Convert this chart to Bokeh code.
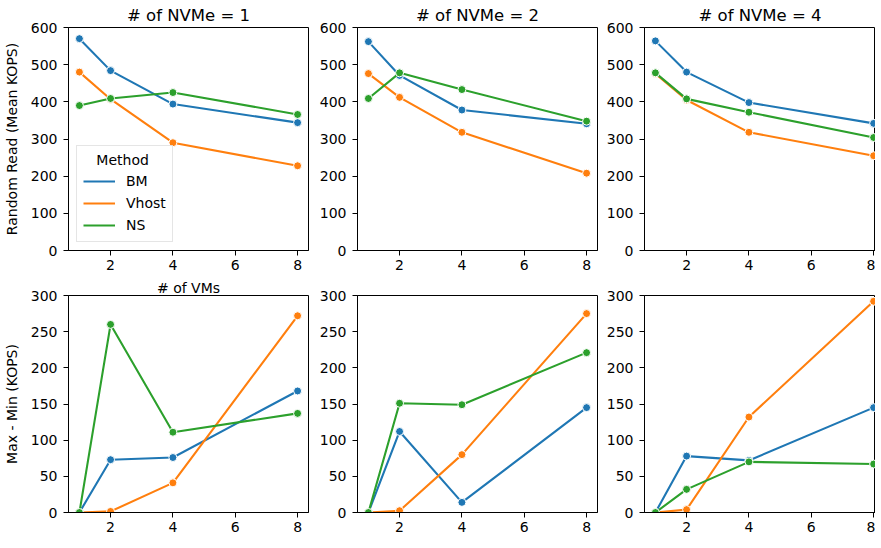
from bokeh.plotting import figure
from bokeh.models import Range1d, FixedTicker, Legend, LegendItem, Title
from bokeh.layouts import column, row
from bokeh.embed import file_html
from bokeh.resources import INLINE

# ---------------- data ----------------
vms = [1, 2, 4, 8]
methods = ["BM", "Vhost", "NS"]
colors = ["#1f77b4", "#ff7f0e", "#2ca02c"]
nvme_titles = ["# of NVMe = 1", "# of NVMe = 2", "# of NVMe = 4"]

# Random Read (Mean KOPS)
read_n1_bm = [570, 484, 394, 344]
read_n1_vhost = [480, 407, 290, 228]
read_n1_ns = [390, 409, 425, 366]

read_n2_bm = [562, 471, 378, 341]
read_n2_vhost = [476, 412, 318, 208]
read_n2_ns = [409, 478, 433, 348]

read_n4_bm = [564, 480, 398, 342]
read_n4_vhost = [476, 405, 318, 255]
read_n4_ns = [478, 408, 372, 304]

# Max - Min (KOPS)
spread_n1_bm = [0, 73, 76, 168]
spread_n1_vhost = [0, 1.5, 41, 272]
spread_n1_ns = [0, 260, 111, 137]

spread_n2_bm = [0, 112, 14, 145]
spread_n2_vhost = [0, 2.5, 80, 275]
spread_n2_ns = [0, 151, 149, 221]

spread_n4_bm = [0, 78, 72, 145]
spread_n4_vhost = [0, 4, 132, 292]
spread_n4_ns = [0, 32, 70, 67]

read_ticks = [0, 100, 200, 300, 400, 500, 600]
spread_ticks = [0, 50, 100, 150, 200, 250, 300]
x_ticks = [2, 4, 6, 8]

top_series = [
    [read_n1_bm, read_n1_vhost, read_n1_ns],
    [read_n2_bm, read_n2_vhost, read_n2_ns],
    [read_n4_bm, read_n4_vhost, read_n4_ns],
]
bottom_series = [
    [spread_n1_bm, spread_n1_vhost, spread_n1_ns],
    [spread_n2_bm, spread_n2_vhost, spread_n2_ns],
    [spread_n4_bm, spread_n4_vhost, spread_n4_ns],
]

# ---------------- layout ----------------
FONT = "DejaVu Sans"
frame_w = [240, 240, 231]
border_l = [63, 39, 38]
border_r = [8, 6, 0]
frame_h = [223, 217]
border_t = [22, 18]
border_b = [27, 25]
x_ends = [8.35, 8.35, 8.06]


def make_fig(ci, ri, series, ymax, yticks):
    p = figure(
        frame_width=frame_w[ci], frame_height=frame_h[ri],
        min_border_left=border_l[ci], min_border_right=border_r[ci],
        min_border_top=border_t[ri], min_border_bottom=border_b[ri],
        x_range=Range1d(0.65, x_ends[ci]), y_range=Range1d(0, ymax),
        output_backend="svg", toolbar_location=None, tools="",
    )
    p.grid.visible = False
    p.outline_line_color = "black"
    p.outline_line_width = 1
    p.background_fill_color = "white"
    p.border_fill_color = "white"
    for ax, ticks in ((p.xaxis[0], x_ticks), (p.yaxis[0], yticks)):
        ax.ticker = FixedTicker(ticks=ticks)
        ax.minor_tick_line_color = None
        ax.major_tick_out = 5
        ax.major_tick_in = 0
        ax.major_tick_line_color = "black"
        ax.axis_line_color = "black"
        ax.major_label_text_font = FONT
        ax.major_label_text_font_size = "14px"
        ax.major_label_text_color = "black"
        ax.axis_label_text_font = FONT
        ax.axis_label_text_font_size = "14px"
        ax.axis_label_text_font_style = "normal"
        ax.axis_label_text_color = "black"
    p.xaxis.major_label_standoff = 4
    p.yaxis.major_label_standoff = 6
    p.yaxis.axis_label_standoff = 8

    line_rs = []
    for vals, c in zip(series, colors):
        lr = p.line(vms, vals, line_color=c, line_width=2.1)
        p.scatter(vms, vals, size=8, fill_color=c, line_color="white", line_width=1)
        line_rs.append(lr)
    return p, line_rs


top_figs = []
bottom_figs = []
for ci in range(3):
    p, lrs = make_fig(ci, 0, top_series[ci], 600, read_ticks)
    p.title = Title(text=nvme_titles[ci], align="center", text_font=FONT,
                    text_font_size="16.5px", text_font_style="normal",
                    text_color="black", standoff=6, offset=(4 if ci == 2 else 0))
    if ci == 0:
        p.yaxis.axis_label = "Random Read (Mean KOPS)"
        legend = Legend(
            items=[LegendItem(label=m, renderers=[r]) for m, r in zip(methods, lrs)],
            location="bottom_left", margin=8,
            title="\u00a0\u00a0\u00a0Method",
            title_text_font=FONT, title_text_font_size="14px",
            title_text_font_style="normal", title_text_color="black",
            title_standoff=3,
            label_text_font=FONT, label_text_font_size="14px", label_text_color="black",
            glyph_width=32, glyph_height=20, label_height=20,
            label_standoff=11, spacing=2, padding=6,
            border_line_color="#cccccc", border_line_width=1,
            background_fill_color="white", background_fill_alpha=0.8,
        )
        p.add_layout(legend)
    top_figs.append(p)

for ci in range(3):
    p, lrs = make_fig(ci, 1, bottom_series[ci], 300, spread_ticks)
    p.title = Title(text=("# of VMs" if ci == 0 else "\u00a0"), align="center",
                    text_font=FONT, text_font_size="14px", text_font_style="normal",
                    text_color="black", standoff=0)
    if ci == 0:
        p.yaxis.axis_label = "Max - Min (KOPS)"
    bottom_figs.append(p)

layout = column(row(*top_figs), row(*bottom_figs))

open("out.html", "w").write(file_html(layout, INLINE))
